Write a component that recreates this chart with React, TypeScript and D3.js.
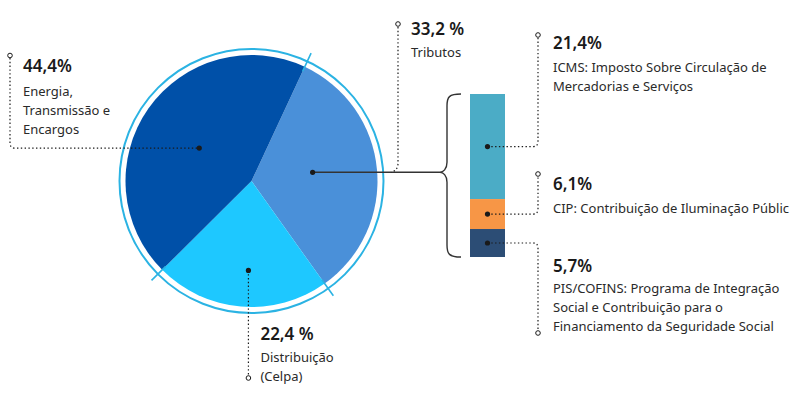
import { useEffect, useRef } from 'react';
import * as d3 from 'd3';

// main pie: share of the electricity bill
const sliceNames = ["Tributos", "Distribuição", "Energia"];
const sliceValues = [33.2, 22.4, 44.4];
const slicePctLabels = ["33,2 %", "22,4 %", "44,4%"];
const sliceDescriptions = [["Tributos"], ["Distribuição", "(Celpa)"], ["Energia,", "Transmissão e", "Encargos"]];
const sliceColors = ["#4a90d9", "#1ec8ff", "#0050a8"];

// breakdown of "Tributos"
const taxNames = ["ICMS", "CIP", "PIS/COFINS"];
const taxValues = [21.4, 6.1, 5.7];
const taxPctLabels = ["21,4%", "6,1%", "5,7%"];
const taxDescriptions = [
  ["ICMS: Imposto Sobre Circulação de", "Mercadorias e Serviços"],
  ["CIP: Contribuição de Iluminação Públic"],
  ["PIS/COFINS: Programa de Integração", "Social e Contribuição para o", "Financiamento da Seguridade Social"],
];
const taxColors = ["#4bacc6", "#f79646", "#2c4d75"];

export default function App() {
  const svgRef = useRef<SVGSVGElement | null>(null);
  const width = 800;
  const height = 395;

  useEffect(() => {
    if (!svgRef.current) return;
    const svg = d3.select(svgRef.current);
    svg.selectAll("*").remove();

    const font = "'Noto Sans', sans-serif";
    const ink = "#1a1a1a";
    const ringColor = "#2bb3e3";
    const dotted = "1.4 2.4";

    const cx = 251.5, cy = 181;
    const radius = 126;
    const start = (25 * Math.PI) / 180;

    const pie = d3.pie<number>().sort(null).startAngle(start).endAngle(start + Math.PI * 2);
    const arcs = pie(sliceValues);
    const arc = d3.arc<d3.PieArcDatum<number>>().innerRadius(0).outerRadius(radius);

    const g = svg.append("g").attr("transform", `translate(${cx},${cy})`);

    g.selectAll("path.slice")
      .data(arcs)
      .enter()
      .append("path")
      .attr("class", "slice")
      .attr("d", arc)
      .attr("fill", (d, i) => sliceColors[i]);

    // outer ring
    g.append("circle")
      .attr("r", 132)
      .attr("fill", "none")
      .attr("stroke", ringColor)
      .attr("stroke-width", 2);

    // ticks on the slice boundaries
    g.selectAll("line.tick")
      .data(arcs)
      .enter()
      .append("line")
      .attr("x1", d => 121 * Math.sin(d.startAngle))
      .attr("y1", d => -121 * Math.cos(d.startAngle))
      .attr("x2", d => 141 * Math.sin(d.startAngle))
      .attr("y2", d => -141 * Math.cos(d.startAngle))
      .attr("stroke", ringColor)
      .attr("stroke-width", 1.6);

    // anchor dots inside slices
    const dotFactor = [0.49, 0.71, 0.49];
    const dots = arcs.map((d, i) => {
      const a = (d.startAngle + d.endAngle) / 2 - 0.05;
      const r = radius * dotFactor[i];
      return [cx + r * Math.sin(a), cy - r * Math.cos(a)];
    });

    const openCircle = (x: number, y: number) =>
      svg.append("circle").attr("cx", x).attr("cy", y).attr("r", 2.3)
        .attr("fill", "#fff").attr("stroke", ink).attr("stroke-width", 1);
    const dot = (x: number, y: number) =>
      svg.append("circle").attr("cx", x).attr("cy", y).attr("r", 2.6).attr("fill", ink);
    const leader = (p: d3.Path) =>
      svg.append("path").attr("d", p.toString()).attr("fill", "none")
        .attr("stroke", ink).attr("stroke-width", 1.2).attr("stroke-dasharray", dotted);

    const label = (x: number, y: number, pct: string, lines: string[], gap: number) => {
      svg.append("text").attr("x", x).attr("y", y)
        .style("font-family", font).style("font-size", "17px").style("font-weight", 600)
        .attr("fill", ink).text(pct);
      lines.forEach((t, k) => {
        svg.append("text").attr("x", x).attr("y", y + gap + k * 19)
          .style("font-family", font).style("font-size", "13px")
          .attr("fill", "#2a2a2a").text(t);
      });
    };

    // Energia (index 2): leader to the top-left
    {
      const [dx, dy] = dots[2];
      const p = d3.path();
      p.moveTo(10, 58);
      p.lineTo(10, dy - 5);
      p.quadraticCurveTo(10, dy, 15, dy);
      p.lineTo(dx, dy);
      leader(p);
      openCircle(10, 55.5);
      dot(dx, dy);
      label(23, 72, slicePctLabels[2], sliceDescriptions[2], 24);
    }

    // Distribuição (index 1): leader straight down
    {
      const [dx, dy] = dots[1];
      const p = d3.path();
      p.moveTo(dx, dy);
      p.lineTo(dx, 375);
      leader(p);
      dot(dx, dy);
      openCircle(dx, 378);
      label(dx + 12, 340, slicePctLabels[1], sliceDescriptions[1], 22);
    }

    // stacked bar for Tributos breakdown
    const barX = 470, barW = 35;
    const y = d3.scaleLinear().domain([0, d3.sum(taxValues)]).range([94, 257]);
    const stacked = taxValues.map((v, i) => {
      const before = d3.sum(taxValues.slice(0, i));
      return { name: taxNames[i], y0: y(before), y1: y(before + v) };
    });
    svg.selectAll("rect.tax")
      .data(stacked)
      .enter()
      .append("rect")
      .attr("class", "tax")
      .attr("x", barX)
      .attr("width", barW)
      .attr("y", d => d.y0)
      .attr("height", d => d.y1 - d.y0)
      .attr("fill", (d, i) => taxColors[i]);

    // Tributos (index 0): solid line to brace
    const [tx, ty] = dots[0];
    const braceTip = 440;
    svg.append("line")
      .attr("x1", tx).attr("y1", ty).attr("x2", braceTip).attr("y2", ty)
      .attr("stroke", "#333").attr("stroke-width", 1.4);
    dot(tx, ty);

    // brace
    {
      const top = y(0), bot = y(d3.sum(taxValues));
      const bx = 447, ex = 461;
      const p = d3.path();
      p.moveTo(ex, top);
      p.bezierCurveTo(bx + 2, top, bx, top + 3, bx, top + 12);
      p.lineTo(bx, ty - 10);
      p.bezierCurveTo(bx, ty - 3, braceTip + 3, ty, braceTip, ty);
      p.bezierCurveTo(braceTip + 3, ty, bx, ty + 3, bx, ty + 10);
      p.lineTo(bx, bot - 12);
      p.bezierCurveTo(bx, bot - 3, bx + 2, bot, ex, bot);
      svg.append("path").attr("d", p.toString()).attr("fill", "none")
        .attr("stroke", "#333").attr("stroke-width", 1.4);
    }

    // Tributos leader
    {
      const lx = 398;
      const p = d3.path();
      p.moveTo(lx, 27);
      p.lineTo(lx, ty - 9);
      p.quadraticCurveTo(lx, ty - 2, lx - 7, ty);
      leader(p);
      openCircle(lx, 24);
      label(411, 35, slicePctLabels[0], sliceDescriptions[0], 22);
    }

    // tax leaders
    const lx = 538;
    const textX = 553;
    const mid = stacked.map(d => (d.y0 + d.y1) / 2);
    {
      // ICMS: right then up
      const p = d3.path();
      p.moveTo(barX + barW / 2, mid[0]);
      p.lineTo(lx - 5, mid[0]);
      p.quadraticCurveTo(lx, mid[0], lx, mid[0] - 5);
      p.lineTo(lx, 38);
      leader(p);
      openCircle(lx, 35);
      dot(barX + barW / 2, mid[0]);
      label(textX, 49, taxPctLabels[0], taxDescriptions[0], 23);
    }
    {
      // CIP: right then up
      const p = d3.path();
      p.moveTo(barX + barW / 2, mid[1]);
      p.lineTo(lx - 5, mid[1]);
      p.quadraticCurveTo(lx, mid[1], lx, mid[1] - 5);
      p.lineTo(lx, 177);
      leader(p);
      openCircle(lx, 174);
      dot(barX + barW / 2, mid[1]);
      label(textX, 190, taxPctLabels[1], taxDescriptions[1], 23);
    }
    {
      // PIS/COFINS: right then down
      const p = d3.path();
      p.moveTo(barX + barW / 2, mid[2]);
      p.lineTo(lx - 5, mid[2]);
      p.quadraticCurveTo(lx, mid[2], lx, mid[2] + 5);
      p.lineTo(lx, 330);
      leader(p);
      openCircle(lx, 333);
      dot(barX + barW / 2, mid[2]);
      label(textX, 272, taxPctLabels[2], taxDescriptions[2], 21);
    }
  }, []);

  return (
    <svg
      ref={svgRef}
      width={width}
      height={height}
      style={{ position: "absolute", left: 0, top: 0, background: "#fff" }}
    />
  );
}
